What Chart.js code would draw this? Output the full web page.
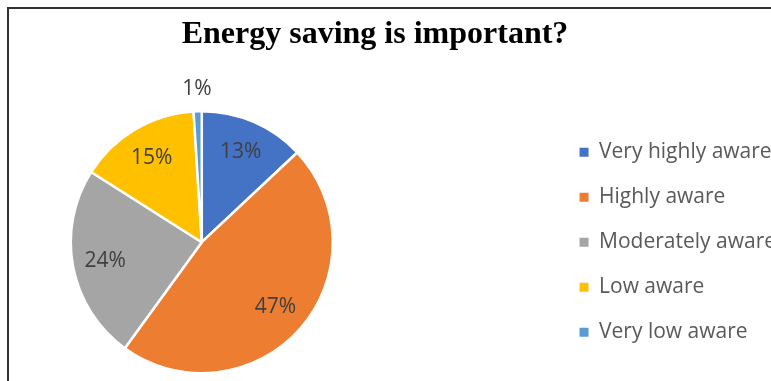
<!DOCTYPE html>
<html>
<head>
<meta charset="utf-8">
<title>Energy saving is important?</title>
<script src="https://cdn.jsdelivr.net/npm/chart.js@4/dist/chart.umd.min.js"></script>
<style>
  html, body { margin: 0; padding: 0; background: #fff; overflow: hidden; }
  #wrap { position: relative; width: 771px; height: 381px; overflow: hidden; }
  #frame { position: absolute; left: 7px; top: 7px; width: 800px; height: 400px;
           border-left: 2px solid #333; border-top: 2px solid #333; }
  #pieChart { position: absolute; top: 0; }
</style>
</head>
<body>
<div id="wrap">
  <div id="frame"></div>
  <canvas id="pieChart"></canvas>
</div>
<script>
var chartTitle = 'Energy saving is important?';
var categories = ['Very highly aware', 'Highly aware', 'Moderately aware', 'Low aware', 'Very low aware'];
var shares = [13, 47, 24, 15, 1];
var colours = ['#4472C4', '#ED7D31', '#A5A5A5', '#FFC000', '#5B9BD5'];

var labelFont = '"Open Sans", "DejaVu Sans", sans-serif';
var legendFontSize = 21;
var legendGap = 24;
var boxSize = 9;

// the legend sits far right and runs off the edge, the pie sits left,
// and the title is centred over the frame, so work out the canvas from that
var measureCtx = document.createElement('canvas').getContext('2d');
measureCtx.font = legendFontSize + 'px ' + labelFont;
var textW = Math.max.apply(null, categories.map(function (c) {
    return measureCtx.measureText(c).width;
}));
var colW = boxSize + legendFontSize / 2 + textW;
var legendBoxX = 580;
var titleCentre = 375;
var pieCentre = 202;
var rightEdge = Math.round(legendBoxX + colW + 10);
var leftEdge = 2 * titleCentre - rightEdge;
var canvasW = rightEdge - leftEdge;
var spacer = (legendBoxX - legendGap) - (2 * pieCentre - leftEdge);

var canvas = document.getElementById('pieChart');
canvas.width = canvasW;
canvas.height = 381;
canvas.style.left = leftEdge + 'px';

// percentage labels, inside the slices (outside for the tiny one)
var sliceLabels = {
    id: 'sliceLabels',
    afterDatasetsDraw: function (chart) {
        var ctx = chart.ctx;
        var meta = chart.getDatasetMeta(0);
        ctx.save();
        ctx.font = '21px ' + labelFont;
        ctx.fillStyle = '#404040';
        ctx.textAlign = 'center';
        ctx.textBaseline = 'middle';
        meta.data.forEach(function (arc, i) {
            var p = arc.getProps(['x', 'y', 'startAngle', 'endAngle', 'outerRadius'], true);
            var mid = (p.startAngle + p.endAngle) / 2;
            var r = shares[i] < 5 ? p.outerRadius + 22 : p.outerRadius * 0.75;
            ctx.fillText(shares[i] + '%', p.x + Math.cos(mid) * r, p.y + Math.sin(mid) * r);
        });
        ctx.restore();
    }
};

var baseLabels = Chart.overrides.doughnut.plugins.legend.labels.generateLabels;

new Chart(canvas.getContext('2d'), {
    type: 'pie',
    data: {
        labels: categories,
        datasets: [{
            data: shares,
            backgroundColor: colours,
            borderColor: '#ffffff',
            borderWidth: 2.5,
            radius: 131
        }]
    },
    options: {
        responsive: false,
        animation: false,
        events: [],
        layout: { padding: 0 },
        plugins: {
            title: {
                display: true,
                text: chartTitle,
                color: '#000000',
                font: { family: '"Liberation Serif", "Times New Roman", serif', size: 32, weight: 'bold' },
                padding: { top: 16, bottom: 49 }
            },
            // empty box between pie and legend, keeps the pie on the left
            subtitle: {
                display: true,
                position: 'right',
                fullSize: false,
                weight: 1,
                text: ' ',
                font: { size: 10 },
                padding: { top: Math.max(spacer - 12, 0), bottom: 0 }
            },
            legend: {
                position: 'right',
                fullSize: false,
                maxWidth: 400,
                labels: {
                    boxWidth: boxSize,
                    boxHeight: boxSize,
                    padding: legendGap,
                    color: '#595959',
                    font: { family: labelFont, size: legendFontSize },
                    generateLabels: function (chart) {
                        return baseLabels(chart).map(function (item) {
                            item.lineWidth = 0;
                            return item;
                        });
                    }
                }
            },
            tooltip: { enabled: false }
        }
    },
    plugins: [sliceLabels]
});
</script>
</body>
</html>
